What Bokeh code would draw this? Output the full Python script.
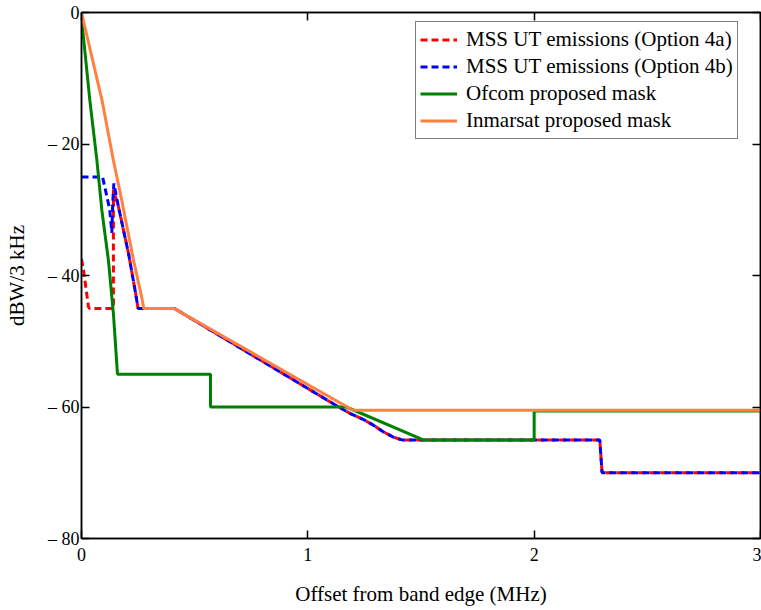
from bokeh.plotting import figure
from bokeh.models import LinearAxis, FixedTicker, Range1d, Legend, LegendItem
from bokeh.embed import file_html
from bokeh.resources import INLINE

# ---- data (MHz offset, dBW/3 kHz) ----
x_4a = [0, 0.009, 0.031, 0.036, 0.141, 0.141, 0.163, 0.208, 0.237, 0.25, 0.41,
        1.107, 1.188, 1.246, 1.291, 1.335, 1.379, 1.416, 2.29, 2.30, 3.0]
y_4a = [-37.5, -39.2, -44.8, -45, -45, -27.0, -29.5, -36.7, -42.3, -45, -45,
        -59.4, -61.0, -61.9, -62.8, -63.8, -64.6, -65.0, -65.0, -70.0, -70.0]

x_4b = [0, 0.093, 0.125, 0.134, 0.138, 0.143, 0.163, 0.208, 0.237, 0.25, 0.41,
        1.107, 1.188, 1.246, 1.291, 1.335, 1.379, 1.416, 2.29, 2.30, 3.0]
y_4b = [-25, -25, -30, -33.5, -29, -26, -29.5, -36.7, -42.3, -45, -45,
        -59.4, -61.0, -61.9, -62.8, -63.8, -64.6, -65.0, -65.0, -70.0, -70.0]

x_ofcom = [0, 0.007, 0.037, 0.068, 0.09, 0.119, 0.141, 0.159, 0.57, 0.57,
           1.17, 1.51, 2.0, 2.0, 3.0]
y_ofcom = [0, -3.2, -13.4, -22.5, -30.1, -37.7, -45.8, -55, -55, -60,
           -60, -65, -65, -60.6, -60.6]

x_inm = [0, 0.091, 0.141, 0.178, 0.23, 0.266, 0.275, 0.408, 1.20, 3.0]
y_inm = [0, -13.4, -22.5, -28.6, -37.7, -43.3, -45, -45, -60.5, -60.5]

x_ticks = [0, 1, 2, 3]
x_tick_labels = ["0", "1", "2", "3"]
y_ticks = [-80, -60, -40, -20, 0]
y_tick_labels = ["\u2013 80", "\u2013 60", "\u2013 40", "\u2013 20", "0"]

series_labels = ["MSS UT emissions (Option 4a)", "MSS UT emissions (Option 4b)",
                 "Ofcom proposed mask", "Inmarsat proposed mask"]

FONT = "Liberation Serif"

p = figure(width=761, height=610, x_range=Range1d(0, 3), y_range=Range1d(-80, 0),
           output_backend="svg", toolbar_location=None,
           min_border_left=81, min_border_right=1, min_border_top=12, min_border_bottom=72,
           x_axis_label="Offset from band edge (MHz)", y_axis_label="dBW/3 kHz")
p.xgrid.visible = False
p.ygrid.visible = False
p.outline_line_color = "black"
p.outline_line_width = 1.5

def style_axis(ax, ticks, labels, show_labels):
    ax.ticker = FixedTicker(ticks=ticks)
    if show_labels:
        ax.major_label_overrides = {t: l for t, l in zip(ticks, labels)}
    else:
        ax.major_label_overrides = {t: "" for t in ticks}
        ax.major_label_standoff = 0
    ax.major_tick_in = 8
    ax.major_tick_out = 0
    ax.minor_tick_in = 0
    ax.minor_tick_out = 0
    ax.major_tick_line_width = 1.5
    ax.major_tick_line_color = "black"
    ax.axis_line_color = "black"
    ax.axis_line_width = 1.5
    ax.major_label_text_font = FONT
    ax.major_label_text_font_size = "18px"
    ax.major_label_text_color = "black"
    ax.axis_label_text_font = FONT
    ax.axis_label_text_font_style = "normal"
    ax.axis_label_text_font_size = "21px"
    ax.axis_label_text_color = "black"

style_axis(p.xaxis[0], x_ticks, x_tick_labels, True)
p.xaxis[0].major_label_standoff = 9
p.xaxis[0].axis_label_standoff = 18
style_axis(p.yaxis[0], y_ticks, y_tick_labels, True)
p.yaxis[0].major_label_standoff = 2
p.yaxis[0].axis_label_standoff = 16

top_ax = LinearAxis()
style_axis(top_ax, x_ticks, x_tick_labels, False)
p.add_layout(top_ax, "above")
right_ax = LinearAxis()
style_axis(right_ax, y_ticks, y_tick_labels, False)
p.add_layout(right_ax, "right")

r_a = p.line(x_4a, y_4a, line_color="#FF0000", line_width=3, line_dash="7 4")
r_b = p.line(x_4b, y_4b, line_color="#0000FF", line_width=3, line_dash="7 4")
r_o = p.line(x_ofcom, y_ofcom, line_color="#008000", line_width=3)
r_i = p.line(x_inm, y_inm, line_color="#FF8040", line_width=3)

legend = Legend(items=[LegendItem(label=series_labels[0], renderers=[r_a]),
                       LegendItem(label=series_labels[1], renderers=[r_b]),
                       LegendItem(label=series_labels[2], renderers=[r_o]),
                       LegendItem(label=series_labels[3], renderers=[r_i])],
                location=(334, 399))
legend.label_text_font = FONT
legend.label_text_font_size = "21px"
legend.label_text_color = "black"
legend.glyph_width = 37
legend.glyph_height = 27
legend.label_height = 27
legend.label_standoff = 9
legend.padding = 4
legend.spacing = 0
legend.margin = 0
legend.border_line_color = "black"
legend.border_line_width = 1.5
legend.background_fill_alpha = 1.0
p.add_layout(legend)

open("out.html", "w").write(file_html(p, INLINE))
